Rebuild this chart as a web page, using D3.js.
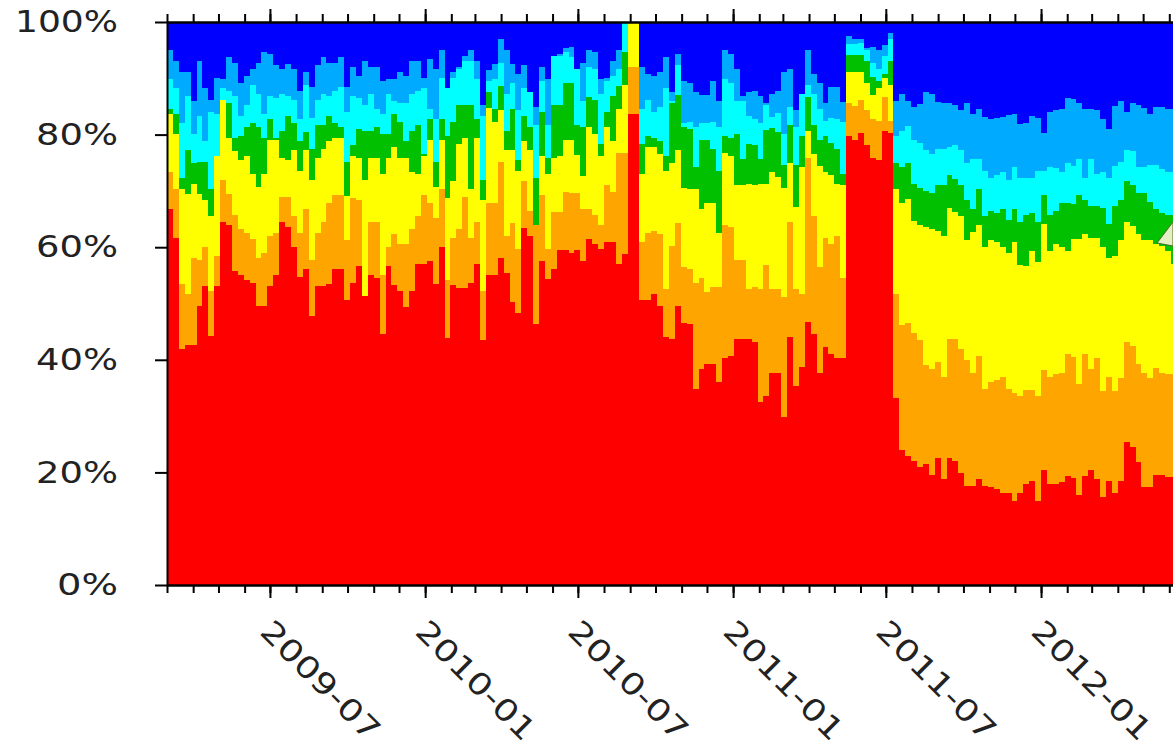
<!DOCTYPE html>
<html>
<head>
<meta charset="utf-8">
<script src="https://cdn.jsdelivr.net/npm/d3@7"></script>
<style>
body { margin: 0; background: #fff; }
svg { display: block; background: #fff; }
</style>
</head>
<body>
<svg width="1173" height="743"></svg>
<script>
var svg = d3.select("svg"),
	width = +svg.attr("width"),
	height = +svg.attr("height");

// weekly bars, first week starts 2009-03-01
var firstWeek = new Date(2009, 2, 1);
var axisEnd = new Date(2012, 6, 1);

var bandColors = ["#ff0000", "#ffa500", "#ffff00", "#00c000", "#00ffff", "#00aaff", "#0000ff"];
var yTicks = [0, 20, 40, 60, 80, 100];
var majorTicks = ["2009-07", "2010-01", "2010-07", "2011-01", "2011-07", "2012-01"];

// cumulative share (%) at the top of each band, one value per week
var redTop = [
	66.8, 61.6, 41.9, 42.7, 42.7, 49.6, 53.1, 44.2, 53.1, 64.4,
	64.0, 55.7, 55.1, 54.2, 53.7, 49.6, 49.6, 53.1, 55.1, 64.4,
	63.6, 60.0, 54.7, 56.1, 47.7, 53.1, 53.1, 53.5, 56.1, 56.1,
	50.6, 53.7, 56.6, 51.3, 55.1, 54.6, 44.5, 56.6, 53.2, 52.2,
	49.3, 52.2, 57.0, 57.0, 57.5, 53.5, 60.0, 43.8, 53.2, 52.8,
	52.8, 53.7, 57.0, 43.5, 55.1, 55.1, 58.1, 55.5, 50.3, 48.3,
	63.4, 62.0, 46.4, 57.5, 54.3, 56.1, 59.5, 59.5, 59.0, 59.5,
	57.5, 61.4, 60.6, 59.7, 61.0, 61.0, 57.0, 58.8, 83.6, 83.6,
	50.6, 50.6, 51.6, 49.6, 44.1, 43.7, 49.5, 46.5, 46.4, 34.8,
	38.3, 39.3, 39.3, 36.1, 40.3, 40.6, 43.7, 43.7, 43.7, 43.2,
	32.5, 33.5, 37.7, 37.7, 29.9, 44.1, 35.4, 38.8, 46.7, 44.6,
	37.7, 42.2, 41.0, 40.3, 40.3, 79.7, 79.0, 80.2, 78.1, 75.9,
	75.4, 80.7, 80.2, 33.3, 23.9, 23.0, 22.0, 21.0, 21.5, 19.6,
	22.5, 18.9, 22.5, 22.0, 19.9, 17.6, 17.6, 18.9, 17.6, 17.4,
	17.0, 16.3, 16.4, 15.0, 16.3, 17.9, 18.5, 15.0, 20.4, 17.9,
	18.0, 18.3, 19.4, 19.0, 16.0, 19.4, 20.4, 18.9, 15.7, 18.5,
	16.3, 18.5, 25.4, 24.5, 21.9, 17.4, 17.4, 19.5, 19.5, 19.1, 19.1
];
var orangeTop = [
	73.3, 70.4, 53.5, 51.6, 58.1, 57.7, 60.0, 52.2, 58.4, 71.9,
	69.4, 65.8, 63.2, 62.6, 61.5, 58.1, 59.0, 62.0, 62.6, 68.9,
	68.9, 65.5, 62.6, 66.8, 57.7, 62.6, 64.5, 67.8, 69.3, 69.3,
	61.3, 68.7, 68.4, 51.3, 64.4, 64.4, 55.1, 60.0, 62.4, 60.6,
	60.6, 63.2, 65.5, 69.3, 67.8, 65.2, 70.4, 54.2, 61.6, 63.2,
	68.9, 61.6, 64.4, 52.2, 67.8, 67.8, 75.2, 62.0, 64.3, 59.7,
	71.8, 66.5, 63.9, 69.3, 59.7, 66.3, 66.3, 69.8, 69.7, 69.7,
	66.8, 66.8, 65.8, 64.0, 71.1, 69.8, 76.8, 76.8, 92.0, 92.0,
	60.9, 62.6, 62.9, 62.3, 52.6, 60.3, 64.3, 56.4, 56.1, 53.7,
	54.5, 52.1, 52.9, 52.9, 63.9, 63.6, 57.7, 57.7, 52.6, 52.9,
	52.6, 56.8, 52.6, 52.6, 51.1, 64.4, 52.6, 51.6, 75.9, 65.5,
	56.4, 61.6, 60.5, 62.0, 54.5, 85.6, 85.0, 86.2, 84.3, 82.7,
	82.5, 86.7, 82.5, 51.6, 46.1, 46.5, 44.8, 43.5, 39.0, 38.3,
	39.6, 37.0, 43.7, 43.7, 41.9, 40.0, 37.7, 40.6, 34.8, 36.1,
	36.5, 37.0, 34.8, 34.1, 33.5, 34.6, 34.6, 33.5, 38.1, 37.0,
	37.5, 37.7, 41.1, 40.5, 35.7, 41.1, 38.3, 40.3, 34.4, 37.0,
	34.4, 36.7, 43.2, 42.5, 39.3, 37.7, 36.7, 38.6, 37.7, 37.4, 37.4
];
var yellowTop = [
	83.6, 80.1, 70.4, 69.4, 71.3, 69.4, 68.4, 65.5, 76.2, 86.1,
	79.4, 77.0, 75.5, 76.2, 73.0, 70.7, 73.0, 79.1, 79.1, 75.9,
	75.5, 77.2, 73.6, 77.2, 72.0, 75.9, 77.5, 78.8, 79.4, 79.4,
	69.1, 76.2, 75.9, 72.0, 75.9, 75.9, 73.0, 75.9, 77.8, 75.9,
	75.9, 73.3, 73.0, 76.2, 79.1, 70.7, 79.1, 68.7, 71.7, 78.4,
	79.4, 70.4, 79.4, 68.4, 84.7, 82.3, 84.3, 77.2, 77.2, 73.6,
	78.8, 77.2, 64.0, 76.2, 73.0, 75.9, 76.2, 79.1, 79.1, 76.3,
	72.6, 81.4, 80.1, 76.2, 81.4, 78.8, 84.6, 88.8, 100, 100,
	73.0, 77.8, 77.8, 76.5, 73.6, 74.9, 77.2, 70.5, 70.4, 70.4,
	66.8, 67.8, 67.9, 62.6, 76.8, 76.2, 71.0, 71.0, 71.3, 71.0,
	71.3, 71.3, 73.3, 72.5, 70.5, 74.9, 67.1, 74.2, 80.7, 76.5,
	74.4, 73.3, 72.8, 71.3, 71.0, 91.2, 91.2, 91.2, 89.1, 87.1,
	88.2, 90.1, 88.8, 70.4, 67.9, 68.5, 64.7, 64.0, 63.6, 63.2,
	62.9, 62.0, 67.0, 66.3, 65.5, 61.3, 62.7, 63.9, 60.0, 61.3,
	61.0, 60.0, 59.0, 61.0, 56.9, 56.6, 59.4, 57.4, 64.2, 59.4,
	60.5, 60.0, 59.4, 61.4, 61.4, 62.3, 61.6, 61.6, 60.0, 58.1,
	58.4, 61.3, 64.4, 63.8, 62.3, 61.3, 61.3, 60.6, 60.3, 59.4, 57.1
];
var greenTop = [
	84.6, 83.6, 72.3, 77.2, 74.9, 75.2, 75.2, 70.4, 76.2, 86.1,
	85.6, 79.4, 79.7, 81.4, 82.0, 81.4, 79.4, 82.7, 79.4, 80.7,
	83.3, 82.0, 78.8, 80.4, 77.5, 81.7, 81.7, 83.3, 82.0, 81.4,
	75.2, 78.1, 81.0, 80.7, 80.7, 81.4, 80.1, 80.1, 83.6, 82.3,
	78.8, 80.7, 81.7, 76.5, 82.7, 75.2, 82.7, 79.7, 82.2, 85.2,
	85.2, 85.2, 82.7, 72.0, 87.5, 84.6, 88.6, 80.7, 84.6, 75.5,
	83.3, 81.4, 72.3, 84.1, 75.9, 85.2, 85.2, 89.1, 89.1, 81.7,
	81.4, 86.7, 86.2, 78.4, 84.1, 86.9, 88.6, 94.6, 100, 100,
	78.4, 79.7, 79.4, 78.8, 76.2, 85.6, 87.1, 81.4, 81.0, 74.2,
	79.1, 79.1, 77.5, 73.6, 79.7, 79.4, 80.1, 75.7, 78.3, 78.1,
	75.7, 80.8, 81.2, 80.5, 74.6, 81.7, 74.6, 79.7, 86.7, 81.7,
	79.1, 79.8, 78.5, 77.5, 73.0, 94.2, 94.2, 94.2, 93.1, 90.3,
	89.5, 90.7, 93.1, 74.9, 74.2, 75.0, 71.3, 70.5, 69.9, 69.7,
	71.0, 71.0, 72.8, 72.2, 71.0, 68.4, 66.8, 70.4, 65.5, 66.5,
	66.0, 66.8, 64.9, 66.8, 64.5, 65.8, 66.1, 64.5, 69.3, 65.8,
	66.5, 67.8, 67.8, 67.6, 69.3, 68.4, 67.4, 67.4, 67.0, 64.2,
	67.4, 68.4, 71.8, 71.0, 69.7, 69.7, 68.1, 66.8, 66.1, 65.8, 65.8
];
var cyanTop = [
	89.8, 88.2, 82.0, 86.9, 80.1, 83.3, 78.8, 84.0, 83.6, 88.2,
	87.8, 86.9, 83.3, 85.2, 88.8, 87.2, 83.6, 86.9, 86.5, 87.2,
	86.9, 86.2, 82.7, 88.8, 83.0, 86.2, 87.2, 86.9, 87.8, 88.5,
	84.0, 86.9, 86.5, 85.2, 87.2, 84.6, 83.6, 87.2, 86.0, 85.6,
	85.6, 87.2, 87.8, 88.2, 84.6, 82.7, 90.1, 88.2, 90.1, 91.7,
	93.0, 93.0, 89.8, 83.3, 89.5, 89.8, 92.7, 87.2, 89.1, 84.3,
	88.2, 87.5, 81.7, 89.5, 81.7, 94.0, 94.0, 94.6, 93.7, 91.7,
	85.9, 92.0, 91.7, 87.2, 89.6, 90.4, 91.7, 100, 100, 100,
	84.6, 86.2, 84.0, 84.9, 88.2, 85.9, 92.4, 82.0, 82.3, 81.4,
	82.0, 82.0, 82.3, 81.4, 89.8, 89.1, 86.0, 86.0, 83.3, 82.7,
	82.0, 85.2, 83.2, 83.8, 80.1, 84.9, 81.4, 87.2, 88.8, 87.2,
	84.6, 82.5, 83.0, 82.7, 82.3, 96.1, 96.1, 96.2, 95.0, 92.7,
	91.7, 94.0, 96.9, 79.7, 80.7, 81.5, 79.1, 78.5, 77.2, 76.5,
	77.5, 77.5, 77.8, 78.1, 77.2, 74.9, 75.7, 75.7, 73.6, 72.3,
	72.8, 73.3, 72.0, 74.2, 72.3, 72.3, 72.3, 73.6, 73.6, 74.2,
	74.0, 73.3, 74.9, 74.5, 75.7, 72.3, 75.7, 73.0, 73.3, 72.3,
	74.4, 75.2, 77.2, 77.0, 74.2, 74.2, 74.6, 74.6, 73.9, 73.3, 73.3
];
var skyTop = [
	95.1, 93.1, 91.1, 91.1, 85.9, 93.1, 88.2, 86.2, 90.1, 89.8,
	93.7, 92.7, 89.1, 90.4, 91.7, 92.7, 94.6, 94.3, 92.4, 91.7,
	92.5, 91.7, 87.8, 91.1, 88.5, 92.4, 93.7, 92.7, 92.7, 93.7,
	88.5, 92.0, 90.4, 93.0, 92.0, 92.0, 89.5, 89.8, 89.8, 91.1,
	90.4, 93.0, 93.0, 90.1, 93.5, 91.7, 95.0, 88.2, 91.1, 92.0,
	94.0, 95.0, 93.0, 85.2, 91.4, 92.5, 96.9, 95.0, 92.5, 90.7,
	92.4, 87.5, 84.9, 92.0, 89.8, 94.0, 94.3, 95.3, 95.6, 91.7,
	92.7, 95.1, 94.6, 89.8, 90.1, 93.1, 95.1, 100, 100, 100,
	92.0, 90.7, 90.4, 91.1, 93.7, 87.5, 94.3, 89.5, 89.1, 87.5,
	87.1, 87.1, 89.6, 85.9, 95.1, 94.3, 91.7, 86.9, 87.5, 87.8,
	86.9, 85.6, 87.2, 87.8, 91.1, 91.7, 84.3, 87.2, 95.1, 90.7,
	89.1, 85.6, 88.5, 88.5, 85.8, 97.5, 96.9, 96.9, 95.3, 95.6,
	95.0, 95.9, 98.1, 85.9, 87.2, 86.0, 84.9, 85.5, 87.5, 87.2,
	85.8, 85.6, 85.6, 85.2, 84.3, 85.6, 83.6, 84.6, 83.2, 82.8,
	83.0, 83.2, 83.4, 83.6, 81.9, 82.0, 83.3, 83.0, 80.2, 84.1,
	84.3, 84.6, 86.5, 86.3, 85.6, 84.6, 84.6, 84.3, 82.8, 81.0,
	85.1, 86.0, 84.0, 85.6, 85.2, 84.7, 83.6, 84.9, 84.9, 84.6, 84.6
];

var bandTops = [redTop, orangeTop, yellowTop, greenTop, cyanTop, skyTop];

var weeks = redTop.map(function(d, i){ return d3.timeDay.offset(firstWeek, 7 * i); });

var x = d3.scaleTime()
	.domain([firstWeek, axisEnd])
	.range([167, 1194.6]);

var y = d3.scaleLinear()
	.domain([0, 100])
	.range([585, 22]);

function bandTop(k, i){
	if(k >= bandTops.length) return 100;
	return bandTops[k][i];
}
function bandBottom(k, i){
	if(k == 0) return 0;
	return bandTop(k - 1, i);
}

// bars
var bars = svg.append("g")
	.attr("shape-rendering", "crispEdges")
	.selectAll("g")
	.data(weeks)
	.enter().append("g");

bandColors.forEach(function(color, k){
	bars.append("rect")
		.attr("x", function(d){ return x(d); })
		.attr("width", function(d){ return x(d3.timeDay.offset(d, 7)) - x(d) + 0.5; })
		.attr("y", function(d, i){ return y(Math.max(bandTop(k, i), bandBottom(k, i))); })
		.attr("height", function(d, i){
			return Math.max(0, y(bandBottom(k, i)) - y(Math.max(bandTop(k, i), bandBottom(k, i))));
		})
		.style("fill", color);
});

// little pale pointer sitting on the right edge
svg.append("path")
	.attr("d", "M1157,243L1173,222L1173,246Z")
	.style("fill", "#e4f0c4")
	.style("stroke", "#4f6b2a")
	.style("stroke-width", 1);

var fontFamily = "'DejaVu Sans', Verdana, sans-serif";

// y axis
var yAxis = svg.append("g")
	.attr("transform", "translate(167,0)")
	.call(d3.axisLeft(y)
		.tickValues(yTicks)
		.tickFormat(function(d){ return d + "%"; })
		.tickSize(12)
		.tickSizeOuter(0)
		.tickPadding(37));

// the old picture's text is wide: stretch glyphs to the measured widths
yAxis.selectAll(".tick text")
	.attr("textLength", function(d){ return String(d).length * 21 + 40; })
	.attr("lengthAdjust", "spacingAndGlyphs");

// bottom axis: monthly minor ticks, half-year major ticks with labels
var majorDates = majorTicks.map(function(s){ return d3.timeParse("%Y-%m")(s); });

var xMinor = svg.append("g")
	.attr("transform", "translate(0,585)")
	.call(d3.axisBottom(x)
		.ticks(d3.timeMonth.every(1))
		.tickSize(8)
		.tickSizeOuter(0)
		.tickFormat(""));

var xMajor = svg.append("g")
	.attr("transform", "translate(0,585)")
	.call(d3.axisBottom(x)
		.tickValues(majorDates)
		.tickSize(13)
		.tickSizeOuter(0)
		.tickFormat(d3.timeFormat("%Y-%m")));

xMajor.selectAll(".tick text")
	.attr("x", 0)
	.attr("y", 0)
	.attr("dy", 0)
	.attr("text-anchor", "start")
	.attr("textLength", 155)
	.attr("lengthAdjust", "spacingAndGlyphs")
	.attr("transform", "translate(-12,48) rotate(45)");

// top axis
var topMinor = svg.append("g")
	.attr("transform", "translate(0,22)")
	.call(d3.axisTop(x)
		.ticks(d3.timeMonth.every(1))
		.tickSize(8)
		.tickSizeOuter(0)
		.tickFormat(""));

var topMajor = svg.append("g")
	.attr("transform", "translate(0,22)")
	.call(d3.axisTop(x)
		.tickValues(majorDates)
		.tickSize(13)
		.tickSizeOuter(0)
		.tickFormat(""));

[yAxis, xMinor, xMajor, topMinor, topMajor].forEach(function(g){
	g.attr("font-family", fontFamily)
		.attr("font-size", 30);
	g.selectAll("path, line")
		.style("stroke", "#000")
		.style("stroke-width", 2);
	g.selectAll("text")
		.style("fill", "#222");
});
</script>
</body>
</html>
